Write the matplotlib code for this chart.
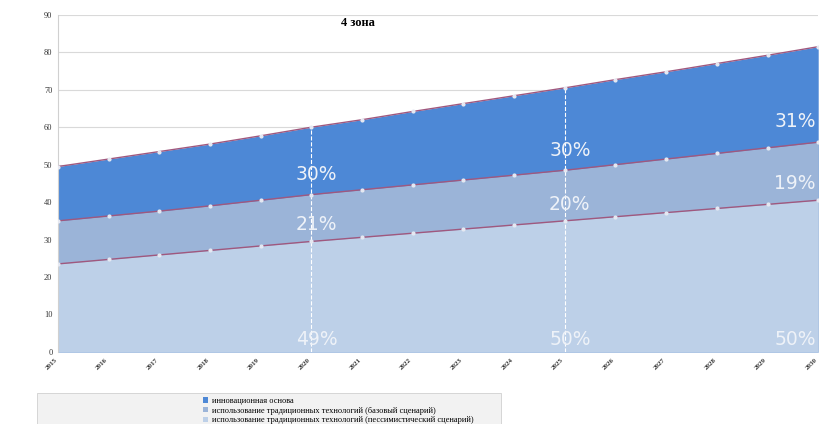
import matplotlib.pyplot as plt
import numpy as np
from matplotlib.patches import Rectangle

YEARS = list(range(2015, 2031))

# Levels (overlapping areas drawn from zero).
INNOVATIVE = [49.5, 51.5, 53.5, 55.5, 57.7, 60.0, 62.0, 64.2,
              66.3, 68.4, 70.5, 72.7, 74.8, 77.0, 79.2, 81.5]
TRADITIONAL_BASE = [35.0, 36.3, 37.6, 39.0, 40.5, 42.0, 43.3, 44.6,
                    45.9, 47.2, 48.5, 50.0, 51.5, 53.0, 54.5, 56.0]
TRADITIONAL_PESSIMISTIC = [23.5, 24.7, 25.9, 27.1, 28.3, 29.5, 30.6, 31.7,
                           32.8, 33.9, 35.0, 36.1, 37.2, 38.3, 39.4, 40.5]

LABELS = [
    "инновационная основа",
    "использование традиционных технологий (базовый сценарий)",
    "использование традиционных технологий (пессимистический сценарий)",
]
COLORS = ["#4d88d6", "#9bb4d8", "#bdd0e8"]

MARKED_YEARS = [2020, 2025, 2030]
SHARE_TOP = ["30%", "30%", "31%"]
SHARE_MIDDLE = ["21%", "20%", "19%"]
SHARE_BOTTOM = ["49%", "50%", "50%"]

SERIF = ["Liberation Serif", "DejaVu Serif"]


def main() -> None:
    fig = plt.figure(figsize=(8.21, 4.24), dpi=100)
    ax = fig.add_axes([0.0706, 0.170, 0.926, 0.795])

    series = [INNOVATIVE, TRADITIONAL_BASE, TRADITIONAL_PESSIMISTIC]
    for values, color, label in zip(series, COLORS, LABELS):
        ax.fill_between(YEARS, 0, values, color=color, label=label, zorder=2,
                        linewidth=0)
        ax.plot(YEARS, values, color="#a0587e", linewidth=1.0, zorder=3)
        ax.plot(YEARS, values, linestyle="none", marker="o", markersize=2,
                color="#e6e9f2", zorder=4)

    for year in MARKED_YEARS[:2]:
        idx = YEARS.index(year)
        ax.plot([year, year], [0, INNOVATIVE[idx]], color="white",
                linestyle="--", linewidth=0.8, zorder=3)

    label_color = "#eef2f8"
    for i, year in enumerate(MARKED_YEARS):
        idx = YEARS.index(year)
        last = year == YEARS[-1]
        ha = "right" if last else "center"
        x = year - 0.05 if last else year + 0.1
        top_y = TRADITIONAL_BASE[idx] + 5.4
        mid_y = TRADITIONAL_PESSIMISTIC[idx] + 4.4
        ax.text(x, top_y, SHARE_TOP[i], color=label_color, fontsize=13.5,
                ha=ha, va="center", zorder=5)
        ax.text(x, mid_y, SHARE_MIDDLE[i], color=label_color, fontsize=13.5,
                ha=ha, va="center", zorder=5)
        ax.text(x, 3.3, SHARE_BOTTOM[i], color=label_color, fontsize=13.5,
                ha=ha, va="center", zorder=5)

    ax.set_xlim(YEARS[0], YEARS[-1])
    ax.set_ylim(0, 90)
    ax.set_yticks(np.arange(0, 91, 10))
    ax.set_xticks(YEARS)
    ax.set_xticklabels([str(y) for y in YEARS], rotation=45, ha="right",
                       fontsize=5, family=SERIF, fontweight="bold")
    for lbl in ax.get_yticklabels():
        lbl.set_fontsize(6)
        lbl.set_family(SERIF)
    ax.tick_params(length=0, pad=4, colors="#333333")
    ax.grid(axis="y", color="#d9d9d9", linewidth=0.8, zorder=0)
    ax.set_axisbelow(True)
    for side in ["top", "right", "bottom"]:
        ax.spines[side].set_visible(False)
    ax.spines["left"].set_color("#d0d0d0")

    ax.text(0.395, 0.975, "4 зона", transform=ax.transAxes, fontsize=9,
            fontweight="bold", family=SERIF, ha="center", va="center")

    # Legend box is wider than its content, as in the source.
    fig.patches.append(Rectangle((0.045, -0.02), 0.565, 0.093,
                                 transform=fig.transFigure, facecolor="#f2f2f2",
                                 edgecolor="#d0d0d0", linewidth=0.6, zorder=0))
    fig.legend(loc="upper left", bbox_to_anchor=(0.245, 0.068),
               prop={"family": SERIF, "size": 6}, frameon=False,
               handlelength=0.6, handleheight=0.6, handletextpad=0.5,
               labelspacing=0.2, borderpad=0.2, borderaxespad=0)

    fig.savefig("out.png", dpi=100)


if __name__ == "__main__":
    main()
